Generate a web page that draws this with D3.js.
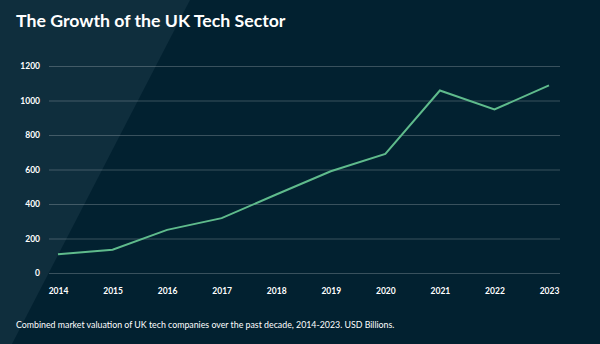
<!DOCTYPE html>
<html>
<head>
<meta charset="utf-8">
<script src="https://cdn.jsdelivr.net/npm/d3@7"></script>
<style>
  body { margin: 0; background: #022130; }
  svg { display: block; font-family: Lato, "Open Sans", sans-serif; }
</style>
</head>
<body>
<div id="chart"></div>
<script>

// Combined market valuation, USD billions
var years = ["2014", "2015", "2016", "2017", "2018", "2019", "2020", "2021", "2022", "2023"];
var valuations = [108, 135, 250, 318, 455, 590, 690, 1058, 948, 1088];
var yTicks = [0, 200, 400, 600, 800, 1000, 1200];

var title = "The Growth of the UK Tech Sector";
var caption = "Combined market valuation of UK tech companies over the past decade, 2014-2023. USD Billions.";

var W = 600, H = 344;
var margin = {top: 66, right: 40, bottom: 71, left: 49},
    width = W - margin.left - margin.right,
    height = H - margin.top - margin.bottom;

var svg = d3.select("#chart")
  .append("svg")
    .attr("width", W)
    .attr("height", H);

// background with the lighter diagonal panel on the left
svg.append("rect")
    .attr("width", W)
    .attr("height", H)
    .attr("fill", "#022130");
svg.append("polygon")
    .attr("points", [[0, 0], [190, 0], [12, H], [0, H]].join(" "))
    .attr("fill", "#0f2e3d");

svg.append("text")
    .attr("x", 16)
    .attr("y", 27)
    .attr("fill", "#ffffff")
    .attr("font-size", 17.7)
    .attr("font-weight", 700)
    .text(title);

svg.append("text")
    .attr("x", 16)
    .attr("y", 328)
    .attr("fill", "#ffffff")
    .attr("font-size", 8.8)
    .text(caption);

var g = svg.append("g")
    .attr("transform", "translate(" + margin.left + "," + margin.top + ")");

var x = d3.scalePoint()
    .domain(years)
    .range([9, 500]);

var y = d3.scaleLinear()
    .domain([0, 1200])
    .range([height, 0]);

// Y axis with gridlines
var yAxis = g.append("g")
    .call(d3.axisLeft(y).tickValues(yTicks).tickSize(-width).tickPadding(9).tickFormat(d3.format("d")));
yAxis.select(".domain").remove();
yAxis.selectAll(".tick line")
    .attr("stroke", "#ffffff")
    .attr("stroke-opacity", 0.22);
yAxis.selectAll(".tick text")
    .attr("fill", "#ffffff")
    .attr("font-size", 8.5)
    .attr("font-weight", 700)
    .attr("font-family", "Lato, sans-serif");

// X axis
var xAxis = g.append("g")
    .attr("transform", "translate(0," + height + ")")
    .call(d3.axisBottom(x).tickSize(0).tickPadding(15));
xAxis.select(".domain").remove();
xAxis.selectAll(".tick text")
    .attr("fill", "#ffffff")
    .attr("font-size", 8.5)
    .attr("font-weight", 700)
    .attr("font-family", "Lato, sans-serif");

// the line
g.append("path")
    .datum(valuations)
    .attr("fill", "none")
    .attr("stroke", "#5fbb8c")
    .attr("stroke-width", 2)
    .attr("stroke-linejoin", "miter")
    .attr("d", d3.line()
      .x(function(d, i) { return x(years[i]); })
      .y(function(d) { return y(d); })
    );

</script>
</body>
</html>
